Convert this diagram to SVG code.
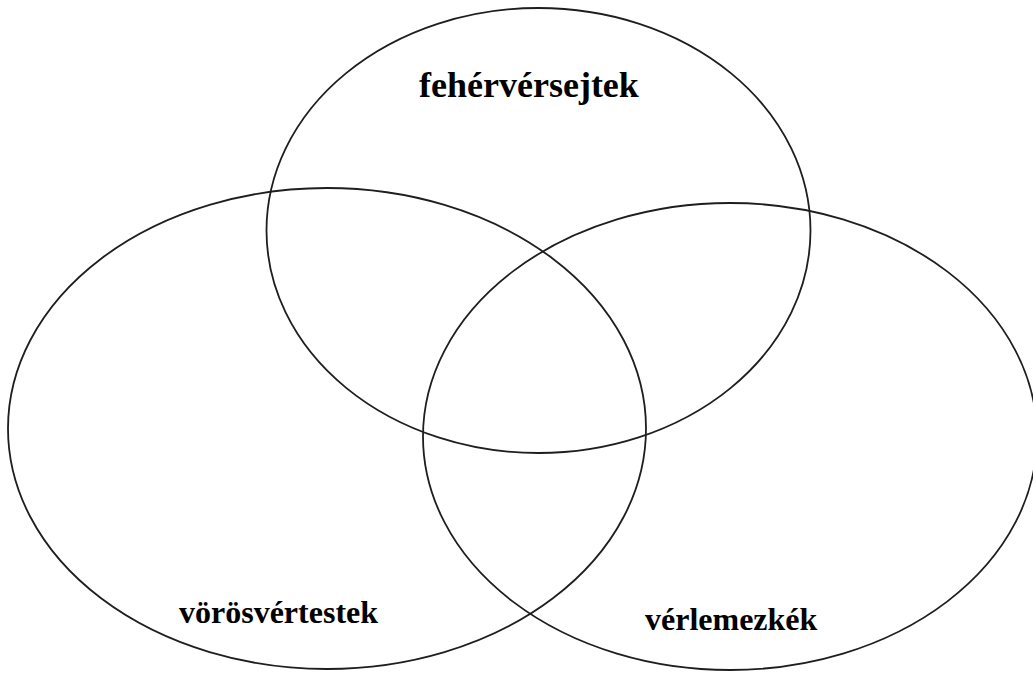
<svg xmlns="http://www.w3.org/2000/svg" width="1033" height="673" viewBox="0 0 1033 673">
<style>
.c{fill:none;stroke:#1e1e1e;stroke-width:1.8}
.t{font-family:"Liberation Serif","Times New Roman",serif;font-weight:bold;font-size:32px;fill:#000}
</style>
<rect width="1033" height="673" fill="#fff"/>
<g id="feher">
<ellipse class="c" cx="538.5" cy="230.5" rx="272" ry="222.5"/>
<text class="t" x="419" y="97" style="font-size:36px">fehérvérsejtek</text>
</g>
<g id="voros">
<ellipse class="c" cx="327" cy="428.5" rx="319" ry="240.5"/>
<text class="t" x="179" y="623">vörösvértestek</text>
</g>
<g id="verlemez">
<ellipse class="c" cx="730" cy="436.5" rx="307" ry="233.5"/>
<text class="t" x="645" y="630">vérlemezkék</text>
</g>
<g id="connectors"/>
</svg>
